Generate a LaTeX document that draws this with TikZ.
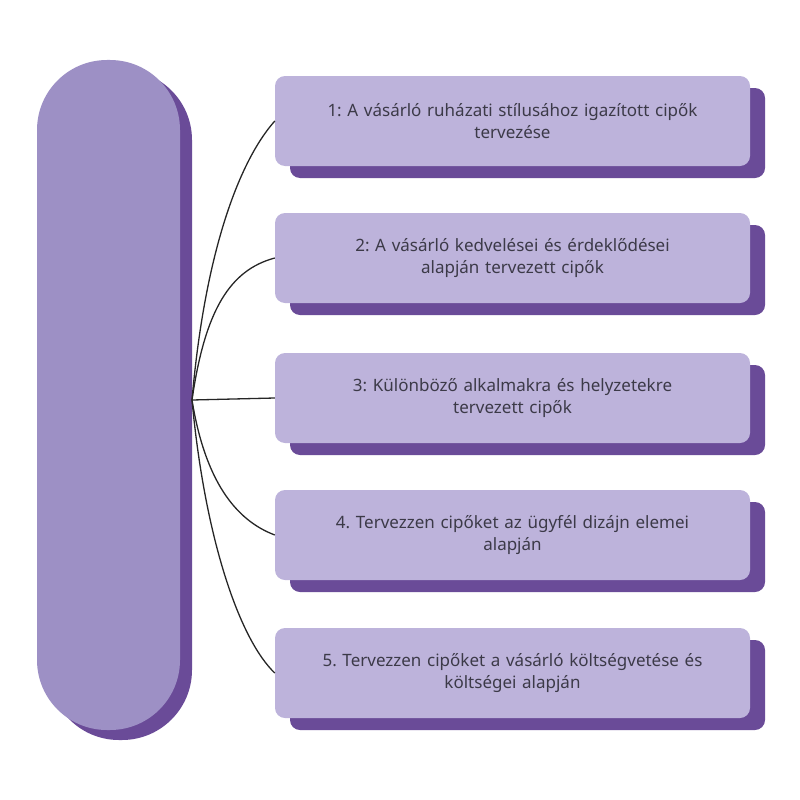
\documentclass[tikz,border=0pt]{standalone}
\usepackage{fontspec}
\setmainfont{Noto Sans}
\frenchspacing
\definecolor{boxfill}{HTML}{BDB3DB}
\definecolor{shad}{HTML}{6A4B98}
\definecolor{pill}{HTML}{9D90C5}
\definecolor{txt}{HTML}{3C3A48}
\begin{document}
\begin{tikzpicture}[x=1pt,y=-1pt,
  box/.style={fill=boxfill,rounded corners=10pt,minimum width=475pt,minimum height=90pt,inner sep=0pt,text width=450pt,align=center,font=\fontsize{17}{22}\selectfont,text=txt},
  sh/.style={fill=shad,rounded corners=10pt},
  con/.style={draw=black!85,line width=1.3pt}]
\useasboundingbox (0,0) rectangle (800,800);
\fill[shad,rounded corners=70pt] (49,70) rectangle (192,740);
\fill[pill,rounded corners=70pt] (37,60) rectangle (180,730);
\coordinate (hub) at (192,400);
\foreach \y in {76,213,353,490,628}{
  \fill[sh] (290,\y+12) rectangle (765,\y+102);
}
\node[box] (b1) at (512.5,121) {1: A vásárló ruházati stílusához igazított cipők\\tervezése};
\node[box] (b2) at (512.5,258) {2: A vásárló kedvelései és érdeklődései\\alapján tervezett cipők};
\node[box] (b3) at (512.5,398) {3: Különböző alkalmakra és helyzetekre\\tervezett cipők};
\node[box] (b4) at (512.5,535) {4. Tervezzen cipőket az ügyfél dizájn elemei\\alapján};
\node[box] (b5) at (512.5,673) {5. Tervezzen cipőket a vásárló költségvetése és\\költségei alapján};
\draw[con] (hub) .. controls (205,250) and (240,160) .. (b1.west);
\draw[con] (hub) .. controls (205,310) and (230,270) .. (b2.west);
\draw[con] (hub) -- (b3.west);
\draw[con] (hub) .. controls (205,480) and (235,520) .. (b4.west);
\draw[con] (hub) .. controls (205,540) and (240,640) .. (b5.west);
\end{tikzpicture}
\end{document}
